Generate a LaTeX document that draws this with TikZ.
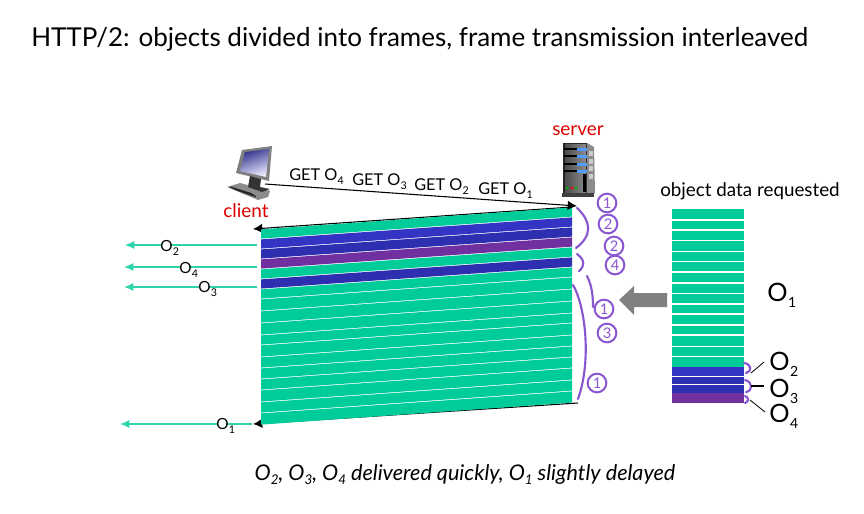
\documentclass[tikz,border=0pt]{standalone}
\usepackage{fontspec}
\setmainfont{Lato}
\usetikzlibrary{arrows.meta}
\definecolor{teal1}{HTML}{00CC99}
\definecolor{tealline}{HTML}{2FD3AA}
\definecolor{blue1}{HTML}{3333C4}
\definecolor{blue2}{HTML}{2E2EB0}
\definecolor{purp1}{HTML}{7030A0}
\definecolor{ink}{HTML}{8A55D0}
\definecolor{redtxt}{HTML}{DD0000}
\newcommand{\subs}[1]{\raisebox{-0.42ex}{\fontsize{0.62em}{0.62em}\selectfont #1}}
\newcommand{\Obj}[2]{O\kern0.02em\raisebox{-0.25em}{\fontsize{#2}{#2}\selectfont #1}}
\tikzset{
  lab/.style={inner sep=0pt,anchor=base west,font=\fontsize{12.2pt}{14pt}\selectfont},
  redlab/.style={inner sep=0pt,text=redtxt,font=\fontsize{14.2pt}{16pt}\selectfont},
  bigO/.style={inner sep=0pt,anchor=base west,font=\fontsize{19pt}{20pt}\selectfont},
  smallO/.style={inner sep=0pt,anchor=base west,font=\fontsize{11.5pt}{14pt}\selectfont},
  hole/.style={circle,fill=white,inner sep=0pt,minimum size=7pt},
  msg/.style={black,line width=0.8pt,-{Latex[length=7pt,width=7pt]}},
  teal arrow/.style={tealline,line width=0.9pt,-{Latex[length=7pt,width=6pt]}},
  inkline/.style={ink,line width=1.6pt,line cap=round},
  hand/.style={text=ink,draw=ink,line width=1.5pt,circle,inner sep=0pt,minimum size=14pt,font=\fontsize{11pt}{11pt}\selectfont},
  lead/.style={black,line width=0.6pt}
}
\begin{document}
\begin{tikzpicture}[x=0.75pt,y=-0.75pt]
\useasboundingbox (0,0) rectangle (864,514);

% title and caption
\node[inner sep=0pt,anchor=base west,font=\fontsize{19.5pt}{22pt}\selectfont] (title) at (31,46) {HTTP/2: objects divided into frames, frame transmission interleaved};
\node[inner sep=0pt,anchor=base,font=\fontsize{16.2pt}{18pt}\itshape\selectfont] (caption) at (465,480) {O\subs{2}, O\subs{3}, O\subs{4} delivered quickly, O\subs{1} slightly delayed};

% connector ends
\coordinate (reqA) at (265,184);
\coordinate (reqB) at (577,206);
\coordinate (topR) at (572,207);
\coordinate (topL) at (253,229);
\coordinate (botR) at (578,403);
\coordinate (botL) at (253,424);

\draw[msg] (botR) -- (botL);
\draw[msg] (topR) -- (topL);

% slanted frame stack
\foreach \t/\b/\c in {207/217/teal1,217/227/blue1,227/237/blue2,237/247/purp1,247/257/teal1,257/267/blue2,
  267/277/teal1,277/289/teal1,289/301/teal1,301/313/teal1,313/323/teal1,323/335/teal1,335/346/teal1,
  346/357/teal1,357/368/teal1,368/380/teal1,380/391/teal1,391/403/teal1}{
  \fill[\c] (572,{\t+0.4}) -- (572,{\b-0.4}) -- (261,{\b+21.6}) -- (261,{\t+22.4}) -- cycle;
}

% requested object stack
\foreach \t/\b/\c in {209/219/teal1,221/229/teal1,231/240/teal1,241/251/teal1,252/261/teal1,262/271/teal1,
  273/282/teal1,284/293/teal1,294/303/teal1,305/313/teal1,315/324/teal1,326/334/teal1,336/346/teal1,
  347/356/teal1,357/367/teal1,367/376/blue1,377/384/blue2,385/393/blue2,393/403/purp1}{
  \fill[\c] (672,\t) rectangle (744,\b);
}

% client icon
\fill[black!45] (227,187) -- (240,183) -- (270,191) -- (268,197) -- (258,200) -- cycle;
\foreach \k in {0,1,2}{\draw[black!85,line width=1pt] ({230+\k*3},{187+\k*1.3}) -- ({252+\k*2},{194+\k*1.3});}
\fill[black!50] (242,150) -- (272,146) -- (269,181) -- (236,173) -- cycle;
\shade[left color=blue!45!black!80,right color=blue!8,shading angle=20] (245,152) -- (269,149) -- (266,177) -- (240,171) -- cycle;
\fill[black!80] (250,176) -- (261,179) -- (260,187) -- (270,189) -- (262,192) -- (248,187) -- cycle;
\node[redlab] (client) at (246,211) {client};

% server icon
\node[redlab] (server) at (578,131) {server};
\fill[black!45] (587,143) -- (594,147) -- (595,193) -- (587,196) -- cycle;
\foreach \y in {151,159,166,174}{\fill[black!20] (589,\y) rectangle (593,{\y+5});}
\fill[black!85] (563,143) rectangle (587,196);
\shade[left color=black!70,right color=black!45] (565,144) rectangle (586,192);
\fill[black!75] (562,193) rectangle (594,197);
\foreach \y in {149,156,164,171}{
  \fill[black] (564,{\y-1}) rectangle (577,{\y+1});
  \fill[blue!55!cyan!70!white] (577,{\y-1.5}) rectangle (587,{\y+1.5});
}
\fill[black] (583,174) rectangle (586,192);
\fill[green!70!black] (567,188) circle (1.5);
\fill[red] (572,188) circle (1.5);
\fill[green!70!black] (576,188) circle (1.5);

% request
\draw[msg] (reqA) -- (reqB);
\node[lab] (g4) at (289,180) {GET \Obj{4}{8pt}};
\node[lab] (g3) at (352,185) {GET \Obj{3}{8pt}};
\node[lab] (g2) at (414,190) {GET \Obj{2}{8pt}};
\node[lab] (g1) at (478,194.5) {GET \Obj{1}{8pt}};

% delivered objects
\coordinate (a2s) at (257,245); \coordinate (a2e) at (125,245);
\coordinate (a4s) at (257,267); \coordinate (a4e) at (124,267);
\coordinate (a3s) at (257,287); \coordinate (a3e) at (124,287);
\coordinate (a1s) at (252,424); \coordinate (a1e) at (120,424);
\draw[teal arrow] (a2s) -- (a2e);
\draw[teal arrow] (a4s) -- (a4e);
\draw[teal arrow] (a3s) -- (a3e);
\draw[teal arrow,line width=1.2pt] (a1s) -- (a1e);
\node[hole] (h2) at (166,246) {};
\node[hole] (h4) at (185,268) {};
\node[hole] (h3) at (204,287) {};
\node[hole] (h1) at (222,424) {};
\node[smallO] (o2) at (160,251.5) {\Obj{2}{8pt}};
\node[smallO] (o4) at (179,273.5) {\Obj{4}{8pt}};
\node[smallO] (o3) at (198,292.5) {\Obj{3}{8pt}};
\node[smallO] (o1) at (216,429.5) {\Obj{1}{8pt}};

% grey arrow
\fill[black!50] (619,300) -- (634,286) -- (634,293) -- (667,293) -- (667,307) -- (634,307) -- (634,315) -- cycle;

% handwriting
\draw[inkline] (577,208) .. controls (592,222) and (592,236) .. (576,248);
\draw[inkline] (577,254) .. controls (585,260) and (585,266) .. (579,271);
\draw[inkline] (587,276) .. controls (592,286) and (593,296) .. (593,307);
\draw[inkline] (573,285) .. controls (585,305) and (592,360) .. (578,399);
\node[hand] (c1) at (607,203) {1};
\node[hand] (c2) at (608,224) {2};
\node[hand] (c3) at (614,246) {2};
\node[hand] (c4) at (615,265) {4};
\node[hand] (c5) at (604,309) {1};
\node[hand] (c6) at (607,333) {3};
\node[hand] (c7) at (597,383) {1};

% right side brackets and leaders
\draw[inkline] (744,363) .. controls (752,364) and (752,372) .. (746,373);
\draw[inkline] (745,380) .. controls (753,382) and (753,391) .. (746,392);
\draw[inkline] (745,396) .. controls (749,397) and (749,402) .. (745,403);
\coordinate (l2a) at (751,373); \coordinate (l2b) at (764,362);
\coordinate (l3a) at (751,386); \coordinate (l3b) at (764,386);
\coordinate (l4a) at (750,400); \coordinate (l4b) at (765,412);
\draw[lead] (l2a) -- (l2b);
\draw[lead,line width=1.3pt] (l3a) -- (l3b);
\draw[lead] (l4a) -- (l4b);

\node[inner sep=0pt,anchor=base west,font=\fontsize{14.1pt}{16pt}\selectfont] (req) at (660,196) {object data requested};
\node[bigO] (O1) at (767,301) {\Obj{1}{10.5pt}};
\node[bigO] (O2) at (769,370) {\Obj{2}{10.5pt}};
\node[bigO] (O3) at (769,397) {\Obj{3}{10.5pt}};
\node[bigO] (O4) at (769,422) {\Obj{4}{10.5pt}};
\end{tikzpicture}
\end{document}
